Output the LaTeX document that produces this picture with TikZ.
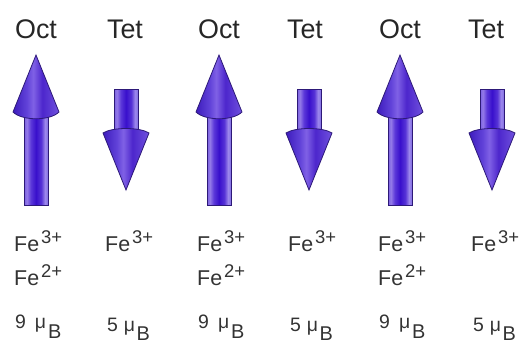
\documentclass[tikz,border=0pt]{standalone}
\usepackage{fontspec}
\setmainfont{Liberation Sans}
\definecolor{edgec}{RGB}{45,25,120}
\pgfdeclarehorizontalshading{shaftshade}{100bp}{
 rgb(0bp)=(0.47,0.37,0.88);
 rgb(25bp)=(0.47,0.37,0.88);
 rgb(31bp)=(0.58,0.48,0.91);
 rgb(39bp)=(0.36,0.22,0.85);
 rgb(50bp)=(0.22,0.06,0.80);
 rgb(61bp)=(0.34,0.20,0.84);
 rgb(69bp)=(0.62,0.54,0.93);
 rgb(75bp)=(0.50,0.42,0.88);
 rgb(100bp)=(0.50,0.42,0.88)}
\pgfdeclarehorizontalshading{headshade}{100bp}{
 rgb(0bp)=(0.24,0.11,0.74);
 rgb(25bp)=(0.24,0.11,0.74);
 rgb(40bp)=(0.38,0.26,0.85);
 rgb(47bp)=(0.50,0.38,0.90);
 rgb(57bp)=(0.30,0.15,0.80);
 rgb(75bp)=(0.44,0.32,0.87);
 rgb(100bp)=(0.44,0.32,0.87)}
\newcommand\UpArrowShape[1]{%
 \path[arrowline, shading=shaftshade] (#1-12,114) rectangle (#1+12,205);
 \path[arrowline, shading=headshade] (#1-23,112) -- (#1,55) -- (#1+23,112)
   .. controls (#1+14,121) and (#1-14,121) .. cycle;}
\newcommand\DownArrowShape[1]{%
 \path[arrowline, shading=shaftshade] (#1-12,89) rectangle (#1+12,134);
 \path[arrowline, shading=headshade] (#1-23,133)
   .. controls (#1-14,127) and (#1+14,127) .. (#1+23,133) -- (#1,190) -- cycle;}
\newcommand\SupIon[1]{\hspace{2bp}\raisebox{8bp}{\fontsize{18.5}{18.5}\selectfont #1}}
\tikzset{
 arrowline/.style={draw=edgec, line width=0.8bp},
 hdr/.style={font=\fontsize{27}{27}\selectfont, anchor=base, inner sep=0pt, text=black!85},
 ion/.style={font=\fontsize{21.5}{21.5}\selectfont, anchor=base west, inner sep=0pt, text=black!80},
 mom/.style={font=\fontsize{19.5}{19.5}\selectfont, anchor=base west, inner sep=0pt, text=black!80}
}
\begin{document}
\begin{tikzpicture}[x=1bp,y=-1bp]
\useasboundingbox (0,0) rectangle (522,345);
% headers
\node[hdr] (h1) at (36,38) {Oct};
\node[hdr] (h2) at (125,38) {Tet};
\node[hdr] (h3) at (219,38) {Oct};
\node[hdr] (h4) at (305,38) {Tet};
\node[hdr] (h5) at (400,38) {Oct};
\node[hdr] (h6) at (486,38) {Tet};
% arrows
\UpArrowShape{36}
\DownArrowShape{126}
\UpArrowShape{219}
\DownArrowShape{309}
\UpArrowShape{400}
\DownArrowShape{492}
% ions
\node[ion] (a1) at (14,251) {Fe\SupIon{3+}};
\node[ion] (a2) at (14,285) {Fe\SupIon{2+}};
\node[ion] (b1) at (105,251) {Fe\SupIon{3+}};
\node[ion] (c1) at (197,251) {Fe\SupIon{3+}};
\node[ion] (c2) at (197,285) {Fe\SupIon{2+}};
\node[ion] (d1) at (288,251) {Fe\SupIon{3+}};
\node[ion] (e1) at (378,251) {Fe\SupIon{3+}};
\node[ion] (e2) at (378,285) {Fe\SupIon{2+}};
\node[ion] (f1) at (471,251) {Fe\SupIon{3+}};
% moments
\node[mom] (m1) at (15,328) {9\hspace{9bp}μ\hspace{2bp}\raisebox{-10bp}{\fontsize{20}{20}\selectfont B}};
\node[mom] (m2) at (107,331) {5\hspace{6bp}μ\hspace{1.5bp}\raisebox{-9bp}{\fontsize{20}{20}\selectfont B}};
\node[mom] (m3) at (198,328) {9\hspace{9bp}μ\hspace{2bp}\raisebox{-10bp}{\fontsize{20}{20}\selectfont B}};
\node[mom] (m4) at (290,331) {5\hspace{6bp}μ\hspace{1.5bp}\raisebox{-9bp}{\fontsize{20}{20}\selectfont B}};
\node[mom] (m5) at (379,328) {9\hspace{9bp}μ\hspace{2bp}\raisebox{-10bp}{\fontsize{20}{20}\selectfont B}};
\node[mom] (m6) at (473,331) {5\hspace{6bp}μ\hspace{1.5bp}\raisebox{-9bp}{\fontsize{20}{20}\selectfont B}};
\end{tikzpicture}
\end{document}
